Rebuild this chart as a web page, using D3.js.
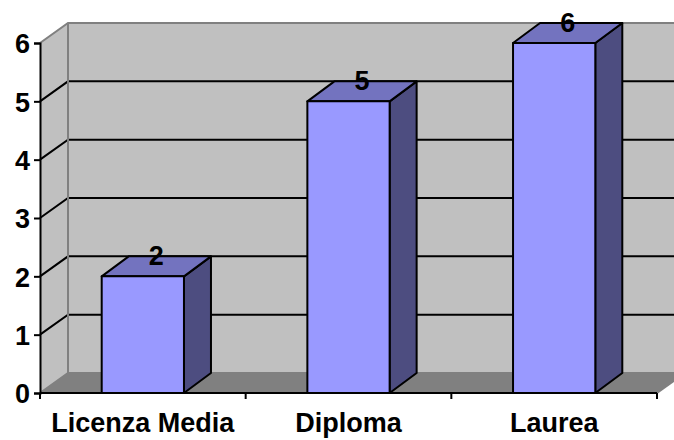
<!DOCTYPE html>
<html>
<head>
<meta charset="utf-8">
<script src="https://cdn.jsdelivr.net/npm/d3@7/dist/d3.min.js"></script>
<style>
  html, body { margin: 0; padding: 0; background: #ffffff; }
  svg { display: block; }
  text { font-family: "Liberation Sans", Arial, sans-serif; font-weight: bold; }
</style>
</head>
<body>
<svg id="chart" width="674" height="440"></svg>
<script>
// Data
const categories = ["Licenza Media", "Diploma", "Laurea"];
const values = [2, 5, 6];
const yTicks = [0, 1, 2, 3, 4, 5, 6];

const W = 674, H = 440;
const plot = { left: 40, right: 657, top: 43, bottom: 393 };
const depth = { dx: 28, dy: -20 };      // wall depth offset
const barDepth = { dx: 27, dy: -20 };   // column depth offset

const colors = {
  wall: "#c0c0c0",
  floor: "#808080",
  wallEdge: "#808080",
  grid: "#000000",
  front: "#9999ff",
  top: "#7373bf",
  side: "#4d4d80"
};

const svg = d3.select("#chart");

const x = d3.scaleBand().domain(categories).range([plot.left, plot.right]).padding(0);
const y = d3.scaleLinear().domain([0, 6]).range([plot.bottom, plot.top]);

const pts = a => a.map(p => p.join(",")).join(" ");

// Back wall
const backLeft = plot.left + depth.dx;
const backRight = plot.right + depth.dx;
svg.append("polygon")
  .attr("points", pts([[backLeft, y(6) + depth.dy], [backRight, y(6) + depth.dy],
                       [backRight, y(0) + depth.dy], [backLeft, y(0) + depth.dy]]))
  .attr("fill", colors.wall);

// Side wall
svg.append("polygon")
  .attr("points", pts([[plot.left, y(6)], [backLeft, y(6) + depth.dy],
                       [backLeft, y(0) + depth.dy], [plot.left, y(0)]]))
  .attr("fill", colors.wall);

// Floor
svg.append("polygon")
  .attr("points", pts([[plot.left, y(0)], [plot.right, y(0)],
                       [backRight, y(0) + depth.dy], [backLeft, y(0) + depth.dy]]))
  .attr("fill", colors.floor);

// Gridlines (back wall + side wall)
const gridVals = yTicks.filter(v => v > 0 && v < 6);
const grid = svg.append("g").attr("stroke", colors.grid).attr("stroke-width", 2).attr("fill", "none");
gridVals.forEach(v => {
  grid.append("polyline")
    .attr("points", pts([[plot.left, y(v)], [backLeft, y(v) + depth.dy], [backRight, y(v) + depth.dy]]));
});

// Wall edges
const edges = svg.append("g").attr("stroke", colors.wallEdge).attr("stroke-width", 2).attr("fill", "none");
edges.append("polyline")
  .attr("points", pts([[plot.left, y(6)], [backLeft, y(6) + depth.dy], [backRight, y(6) + depth.dy]]));
edges.append("line")
  .attr("x1", backLeft).attr("x2", backLeft)
  .attr("y1", y(6) + depth.dy).attr("y2", y(0) + depth.dy);
edges.append("polyline")
  .attr("points", pts([[plot.left, y(0)], [backLeft, y(0) + depth.dy], [backRight, y(0) + depth.dy]]));
edges.append("line")
  .attr("x1", plot.right).attr("y1", y(0))
  .attr("x2", backRight).attr("y2", y(0) + depth.dy);

// Columns
const barW = x.bandwidth() * 0.4;
const bars = svg.append("g").attr("stroke", "#000").attr("stroke-width", 2).attr("stroke-linejoin", "round");
categories.forEach((c, i) => {
  const x0 = x(c) + (x.bandwidth() - barW) / 2;
  const x1 = x0 + barW;
  const yt = y(values[i]);
  const yb = y(0);
  bars.append("polygon").attr("fill", colors.side)
    .attr("points", pts([[x1, yt], [x1 + barDepth.dx, yt + barDepth.dy],
                         [x1 + barDepth.dx, yb + barDepth.dy], [x1, yb]]));
  bars.append("polygon").attr("fill", colors.top)
    .attr("points", pts([[x0, yt], [x1, yt], [x1 + barDepth.dx, yt + barDepth.dy], [x0 + barDepth.dx, yt + barDepth.dy]]));
  bars.append("rect").attr("fill", colors.front)
    .attr("x", x0).attr("y", yt).attr("width", barW).attr("height", yb - yt);
  svg.append("text")
    .attr("x", (x0 + x1) / 2 + barDepth.dx / 2)
    .attr("y", yt - 11)
    .attr("text-anchor", "middle")
    .attr("font-size", 27)
    .attr("fill", "#000")
    .text(values[i]);
});

// Value axis
const yAxis = d3.axisLeft(y).tickValues(yTicks).tickFormat(d3.format("d")).tickSize(6).tickPadding(4);
const gy = svg.append("g").attr("transform", `translate(${plot.left},0)`).call(yAxis);
gy.select(".domain").attr("stroke", "#000").attr("stroke-width", 2);
gy.selectAll(".tick line").attr("stroke", "#000").attr("stroke-width", 2);
gy.selectAll(".tick text").attr("font-size", 27).attr("font-family", "Liberation Sans, Arial, sans-serif")
  .attr("font-weight", "bold").attr("fill", "#000").attr("dy", "0.36em");

// Category axis
const boundaries = categories.map(c => x(c)).concat([plot.right]);
const gx = svg.append("g").attr("stroke", "#000").attr("stroke-width", 2);
gx.append("line").attr("x1", plot.left).attr("x2", plot.right).attr("y1", y(0)).attr("y2", y(0));
boundaries.forEach(b => {
  gx.append("line").attr("x1", b).attr("x2", b).attr("y1", y(0)).attr("y2", y(0) + 6);
});
svg.append("g").selectAll("text").data(categories).join("text")
  .attr("x", d => x(d) + x.bandwidth() / 2)
  .attr("y", 432)
  .attr("text-anchor", "middle")
  .attr("font-size", 27)
  .attr("fill", "#000")
  .text(d => d);
</script>
</body>
</html>
